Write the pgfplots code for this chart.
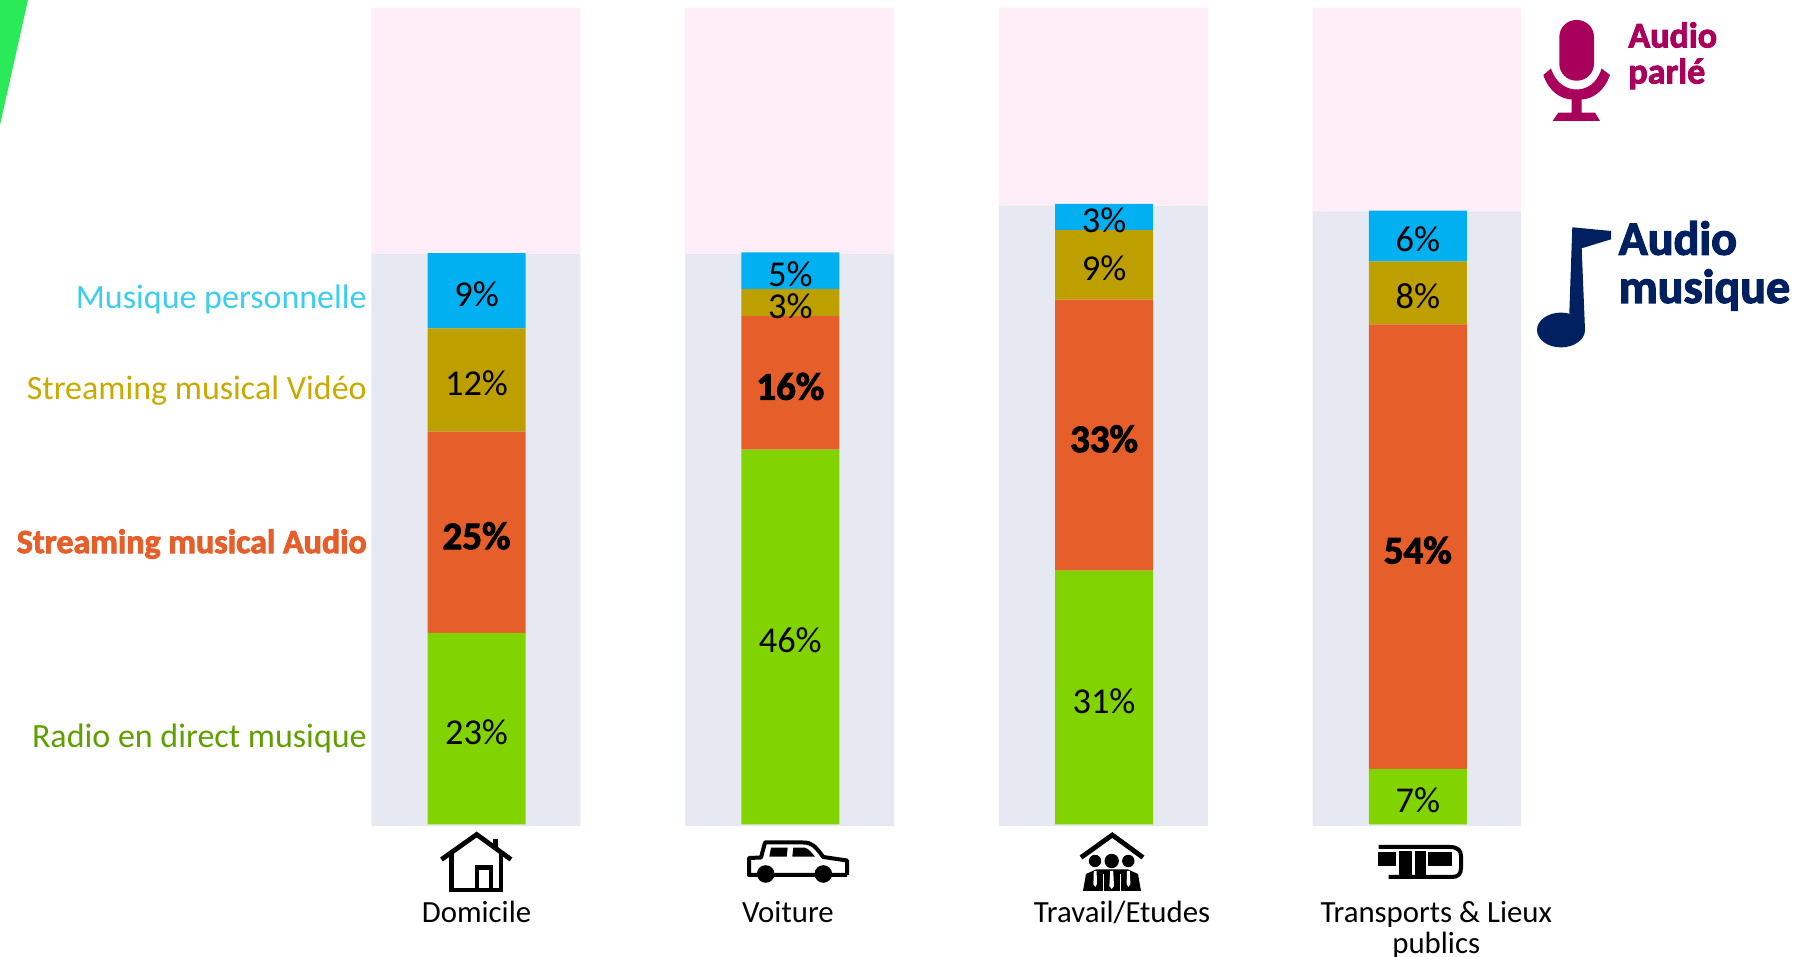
\documentclass[border=0pt]{standalone}
\usepackage{pgfplots}
\pgfplotsset{compat=1.18}
\usepackage{fontspec}
\setmainfont{Carlito}
\newfontfamily\heavy[BoldFeatures={FakeBold=2.5}]{Carlito}
\definecolor{cBlue}{HTML}{00B0F0}
\definecolor{cOlive}{HTML}{BDA000}
\definecolor{cOrange}{HTML}{E65F2B}
\definecolor{cGreen}{HTML}{82D400}
\definecolor{cGrey}{HTML}{E6E9F1}
\definecolor{cPink}{HTML}{FFEEF8}
\definecolor{cMag}{HTML}{A9005C}
\definecolor{cNavy}{HTML}{00205F}
\definecolor{cWedge}{HTML}{2AEA5A}
\definecolor{lBlue}{HTML}{3BCEF0}
\definecolor{lOlive}{HTML}{C8AA00}
\definecolor{lGreen}{HTML}{5FA000}
\newcommand{\shifted}[2]{\hspace*{#1}\begin{tabular}[t]{@{}c@{}}#2\end{tabular}}
\pgfplotsset{common/.style={
  at={(185.4pt,65.4pt)},anchor=south west,scale only axis,
  width=575.1pt,height=409.3pt,
  xmin=-0.337,xmax=3.329,
  ybar stacked,
}}
\begin{document}
\begin{tikzpicture}
\path[use as bounding box] (0,0) rectangle (905.5pt,478.5pt);
% backgrounds
\begin{axis}[common,hide axis,ymin=0,ymax=100,bar width=104.5pt,bar shift=-0.35pt]
\addplot[fill=cGrey,draw=none] table[x=x,y=v] {
x v
0 69.9
1 69.9
2 75.8
3 75.1
};
\addplot[fill=cPink,draw=none] table[x=x,y=v] {
x v
0 30.1
1 30.1
2 24.2
3 24.9
};
\end{axis}
% bars
\begin{axis}[common,ymin=-0.21,ymax=99.79,bar width=49pt,
  axis line style={draw=none},major tick length=0pt,
  xtick={0,1,2,3},
  xticklabels={{\shifted{0pt}{Domicile}},{\shifted{-2.4pt}{Voiture}},{\shifted{18pt}{Travail/Etudes}},{\shifted{18.5pt}{Transports \& Lieux\\[-1.6pt]publics}}},
  xticklabel style={font=\fontsize{15.4}{17}\selectfont,yshift=-32.6pt,text=black},
  ytick={10.7,34.5,53.2,64.4},
  yticklabels={\textcolor{lGreen}{Radio en direct musique},{\heavy\bfseries\textcolor{cOrange}{Streaming musical Audio}},\textcolor{lOlive}{Streaming musical Vidéo},\textcolor{lBlue}{Musique personnelle}},
  yticklabel style={font=\fontsize{17}{19}\selectfont,xshift=1.5pt,yshift=-1pt},
  point meta=explicit symbolic,
  nodes near coords={\pgfplotspointmeta\%},
  every node near coord/.append style={font=\fontsize{18.2}{20}\selectfont,text=black,yshift=-1.8pt},
]
\addplot[fill=cGreen,draw=none] table[x=x,y=v,meta=l] {
x v l
0 23.4 23
1 45.8 46
2 31.0 31
3 6.8 7
};
\addplot[fill=cOrange,draw=none,every node near coord/.append style={font=\fontsize{19.5}{21}\heavy\bfseries}] table[x=x,y=v,meta=l] {
x v l
0 24.6 25
1 16.3 16
2 33.1 33
3 54.3 54
};
\addplot[fill=cOlive,draw=none] table[x=x,y=v,meta=l] {
x v l
0 12.6 12
1 3.3 3
2 8.5 9
3 7.7 8
};
\addplot[fill=cBlue,draw=none] table[x=x,y=v,meta=l] {
x v l
0 9.2 9
1 4.5 5
2 3.2 3
3 6.2 6
};
\end{axis}
% decoration in reference pixels
\begin{scope}[shift={(0,478.5pt)},x=0.5pt,y=-0.5pt]
\fill[cWedge] (0,0)--(28,0)--(0,125)--cycle;
% mic
\fill[cMag,rounded corners=17pt/2] (1559.3,20) rectangle (1594,80.7);
\fill[cMag] (1543.3,75) -- (1551,68.5) .. controls (1556,84) and (1567,89.5) .. (1576.7,89.5)
  .. controls (1586,89.5) and (1597,84) .. (1601.5,68.5) -- (1610,75)
  .. controls (1604,92) and (1592,99) .. (1581.7,99.5) -- (1581.7,112.7) -- (1595,112.7) -- (1600,121) -- (1552.7,121) -- (1558.3,112.7) -- (1571.7,112.7) -- (1571.7,99.5)
  .. controls (1561,99) and (1549,92) .. (1543.3,75) -- cycle;
\node[anchor=base west,inner sep=0,text=cMag,font=\fontsize{18}{20}\heavy\bfseries] at (1628,47.5) {Audio};
\node[anchor=base west,inner sep=0,text=cMag,font=\fontsize{18}{20}\heavy\bfseries] at (1628,83.5) {parlé};
% note
\fill[cNavy] (1572.3,227.3) -- (1611,231) -- (1611,239.3) -- (1581.7,248.3) -- (1585,330) -- (1569.3,313.3) -- cycle;
\fill[cNavy] (1561,330) ellipse [x radius=12pt,y radius=8.7pt];
\node[anchor=base west,inner sep=0,text=cNavy,font=\fontsize{24}{26}\heavy\bfseries] at (1618.3,254.8) {Audio};
\node[anchor=base west,inner sep=0,text=cNavy,font=\fontsize{24}{26}\heavy\bfseries] at (1618.3,303) {musique};
% house
\draw[black,line width=2.4pt,miter limit=10] (441.5,859.5) -- (476.7,834.5) -- (511,859.5);
\draw[black,line width=2.4pt] (451.5,851) -- (451.5,890) -- (501,890) -- (501,851);
\draw[black,line width=2.4pt] (477,890) -- (477,867.5) -- (491,867.5) -- (491,890);
\fill[black] (492.7,839) rectangle (498,849);
% car
\draw[black,line width=2pt,line join=round] (847,875) -- (847,860.5) -- (823.3,857) .. controls (815,846) and (812,842.5) .. (803,842.5)
  -- (765,842.5) -- (761,857.5) -- (749,858) -- (749,875) -- (847,875);
\fill[black] (771,847.7) -- (787.7,847.7) -- (786.7,856.7) -- (769.3,856.7) -- cycle;
\fill[black] (793.3,847.7) -- (805,847.7) .. controls (809,849) and (812,853) .. (815,856.7) -- (792.3,856.7) -- cycle;
\fill[black] (765.7,874) circle [radius=4.4pt];
\fill[black] (823.3,874) circle [radius=4.4pt];
% people
\draw[black,line width=2.4pt] (1081,857.5) -- (1112.3,835) -- (1143,857.5);
\fill[black] (1095,861) circle [radius=3.1pt];
\fill[black] (1111.7,861) circle [radius=3.6pt];
\fill[black] (1128.3,861) circle [radius=3.1pt];
\fill[black] (1083,891) -- (1086,874) -- (1096,869.5) -- (1111.7,869.5) -- (1128,869.5) -- (1138,874) -- (1141,891) -- cycle;
\fill[white] (1093.8,871) -- (1096.6,871) -- (1097,884) -- (1095.2,887) -- (1093.4,884) -- cycle;
\fill[white] (1110.2,871) -- (1113.2,871) -- (1114,886) -- (1111.7,889) -- (1109.4,886) -- cycle;
\fill[white] (1127,871) -- (1129.8,871) -- (1130.4,884) -- (1128.4,887) -- (1126.6,884) -- cycle;
\draw[white,line width=.5pt] (1103.5,874) -- (1103.5,891) (1120,874) -- (1120,891);
% tram
\draw[black,line width=2pt] (1378.5,847) -- (1450,847) .. controls (1458,847) and (1461,851) .. (1461,856)
  -- (1461,868) .. controls (1461,874) and (1458,877) .. (1452,877) -- (1388.5,877);
\fill[black] (1378.3,852) rectangle (1396,866);
\fill[black] (1399.3,851) rectangle (1412,877);
\fill[black] (1414.5,851) rectangle (1426,877);
\fill[black] (1428.3,852) rectangle (1452,866);
\end{scope}
\end{tikzpicture}
\end{document}
